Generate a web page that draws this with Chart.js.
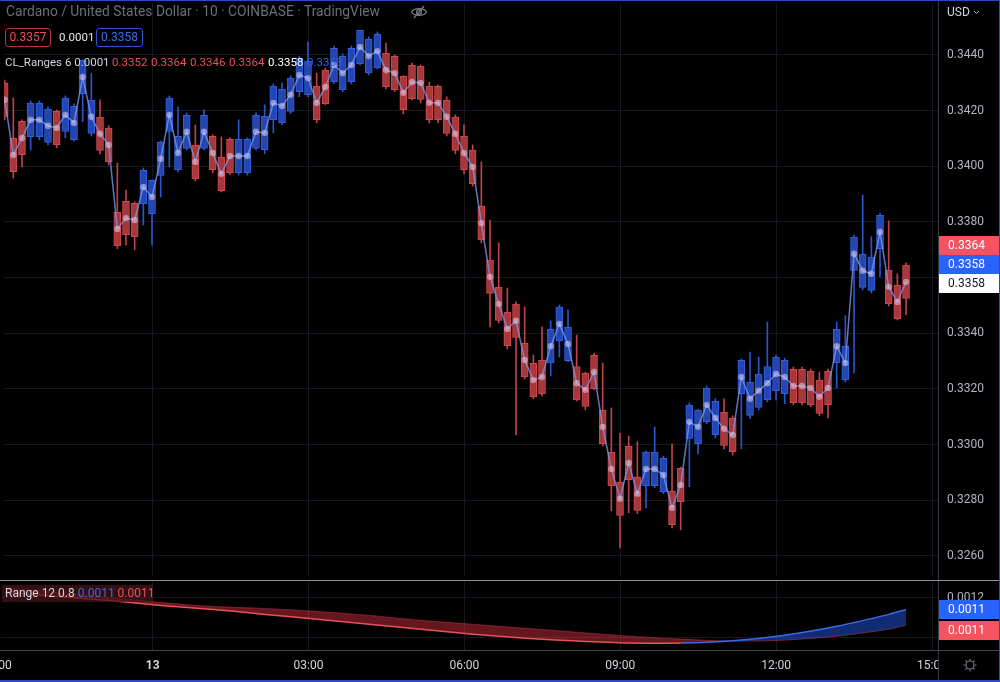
<!DOCTYPE html>
<html>
<head>
<meta charset="utf-8">
<script src="https://cdn.jsdelivr.net/npm/chart.js@4.4.1/dist/chart.umd.min.js"></script>
<style>
  html, body { margin: 0; padding: 0; background: #000; }
  #wrap { position: relative; width: 1000px; height: 682px; overflow: hidden; background: #000;
          font-family: Roboto, "Noto Sans", sans-serif; }
  canvas { position: absolute; left: 0; }
  #main { top: 0; }
  #osc { top: 580px; }
  .abs { position: absolute; white-space: nowrap; }
  .line { position: absolute; }
</style>
</head>
<body>
<div id="wrap">
  <canvas id="main" width="1000" height="580"></canvas>
  <canvas id="osc" width="1000" height="102"></canvas>

  <!-- pane separators -->
  <div class="line" style="left:938px;top:0;width:1px;height:682px;background:#363a45"></div>
  <div class="line" style="left:0;top:580px;width:1000px;height:1px;background:#8f929b"></div>
  <div class="line" style="left:0;top:650px;width:1000px;height:1px;background:#43464f"></div>
  <div class="line" style="left:939px;top:651px;width:60px;height:29px;background:#000"></div>

  <!-- header -->
  <div class="abs" style="left:6px;top:3px;font-size:13.8px;color:#6b6e78">Cardano / United States Dollar · 10 · COINBASE · TradingView</div>
  <svg class="abs" style="left:410px;top:5px" width="18" height="14" viewBox="0 0 18 14">
    <path d="M1.5 7 C4 2.5 14 2.5 16.5 7 C14 11.5 4 11.5 1.5 7 Z" fill="none" stroke="#787b86" stroke-width="1.3"/>
    <circle cx="9" cy="7" r="2.4" fill="none" stroke="#787b86" stroke-width="1.3"/>
    <line x1="14" y1="1" x2="4" y2="13" stroke="#787b86" stroke-width="1.3"/>
  </svg>
  <div class="abs" style="left:5px;top:28px;width:46px;height:19px;box-sizing:border-box;border:1px solid #b8333d;border-radius:3px;color:#e8505b;font-size:12px;line-height:17px;text-align:center">0.3357</div>
  <div class="abs" style="left:59px;top:29px;font-size:11.5px;line-height:17px;color:#e6e8ee">0.0001</div>
  <div class="abs" style="left:96px;top:28px;width:47px;height:19px;box-sizing:border-box;border:1px solid #2d55d0;border-radius:3px;color:#3d6ae8;font-size:12px;line-height:17px;text-align:center">0.3358</div>

  <div class="abs" style="left:5px;top:55px;font-size:11.5px;color:#d1d4dc">CL_Ranges 6 0.0001</div>
  <div class="abs" style="left:112px;top:55px;font-size:11.5px;color:#e8505b">0.3352</div>
  <div class="abs" style="left:151px;top:55px;font-size:11.5px;color:#e8505b">0.3364</div>
  <div class="abs" style="left:190px;top:55px;font-size:11.5px;color:#e8505b">0.3346</div>
  <div class="abs" style="left:229px;top:55px;font-size:11.5px;color:#e8505b">0.3364</div>
  <div class="abs" style="left:268px;top:55px;font-size:11.5px;color:#ffffff">0.3358</div>
  <div class="abs" style="left:307px;top:55px;font-size:11.5px;color:#2f5ee0">0.3358</div>

  <!-- price axis header -->
  <div class="abs" style="left:947px;top:5px;font-size:12px;color:#d1d4dc">USD</div>
  <svg class="abs" style="left:973px;top:10px" width="7" height="5" viewBox="0 0 7 5">
    <path d="M1 1 L3.5 3.5 L6 1" fill="none" stroke="#b2b5be" stroke-width="1"/>
  </svg>

  <!-- oscillator legend -->
  <div class="abs" style="left:2px;top:585px;width:151px;height:17px;background:rgba(70,20,24,0.75)"></div>
  <div class="abs" style="left:5px;top:586px;font-size:12px;color:#d1d4dc">Range 12 0.8 <span style="color:#3d6ae8">0.0011</span> <span style="color:#e8505b">0.0011</span></div>

  <!-- settings icon -->
  <svg class="abs" style="left:962px;top:657px" width="16" height="16" viewBox="0 0 16 16">
    <circle cx="8" cy="8" r="4" fill="none" stroke="#787b86" stroke-width="1.1"/>
    <path d="M8 1.5v2M8 12.5v2M1.5 8h2M12.5 8h2M3.4 3.4l1.4 1.4M11.2 11.2l1.4 1.4M3.4 12.6l1.4-1.4M11.2 4.8l1.4-1.4" stroke="#787b86" stroke-width="1.1"/>
  </svg>

  <!-- frame -->
  <div class="line" style="left:0;top:0;width:1000px;height:1px;background:#2c4bbd"></div>
  <div class="line" style="left:0;top:680px;width:1000px;height:2px;background:#2c4bbd"></div>
  <div class="line" style="left:999px;top:0;width:1px;height:682px;background:#2c4bbd"></div>
</div>

<script>
// ==========================
// DATA (10-minute range bars, bar 1 = 21:10)
// ==========================
const mid = [
  0.34239, 0.34041, 0.34102, 0.34167, 0.34167, 0.34146, 0.34138, 0.34185, 0.34156, 0.34321,
  0.34178, 0.34117, 0.34077, 0.33775, 0.33814, 0.33807, 0.33926, 0.33890, 0.34027, 0.34185,
  0.34048, 0.34124, 0.34016, 0.34124, 0.34048, 0.33973, 0.34037, 0.34037, 0.34037, 0.34124,
  0.34120, 0.34228, 0.34217, 0.34257, 0.34328, 0.34317, 0.34228, 0.34285, 0.34364, 0.34335,
  0.34364, 0.34429, 0.34396, 0.34414, 0.34346, 0.34335, 0.34264, 0.34303, 0.34300, 0.34228,
  0.34228, 0.34178, 0.34117, 0.34048, 0.33998, 0.33796, 0.33603, 0.33506, 0.33416, 0.33445,
  0.33304, 0.33232, 0.33243, 0.33354, 0.33434, 0.33362, 0.33221, 0.33197, 0.33261, 0.33064,
  0.32913, 0.32806, 0.32934, 0.32824, 0.32913, 0.32913, 0.32891, 0.32773, 0.32855, 0.33082,
  0.33064, 0.33143, 0.33096, 0.33057, 0.33035, 0.33243, 0.33165, 0.33194, 0.33221, 0.33254,
  0.33243, 0.33211, 0.33211, 0.33204, 0.33172, 0.33204, 0.33354, 0.33293, 0.33686, 0.33625,
  0.33614, 0.33764, 0.33567, 0.33513, 0.33585
];
const high = [
  0.34310, 0.34246, 0.34167, 0.34235, 0.34235, 0.34214, 0.34203, 0.34253, 0.34225, 0.34382,
  0.34335, 0.34239, 0.34146, 0.34012, 0.33915, 0.33872, 0.33994, 0.33951, 0.34091, 0.34253,
  0.34214, 0.34192, 0.34149, 0.34203, 0.34113, 0.34106, 0.34102, 0.34167, 0.34102, 0.34192,
  0.34221, 0.34296, 0.34300, 0.34325, 0.34396, 0.34447, 0.34335, 0.34353, 0.34432, 0.34404,
  0.34432, 0.34486, 0.34465, 0.34483, 0.34443, 0.34400, 0.34325, 0.34371, 0.34364, 0.34303,
  0.34293, 0.34250, 0.34185, 0.34149, 0.34077, 0.34016, 0.33807, 0.33725, 0.33563, 0.33513,
  0.33495, 0.33322, 0.33423, 0.33445, 0.33502, 0.33484, 0.33394, 0.33261, 0.33329, 0.33293,
  0.33132, 0.33042, 0.33031, 0.33010, 0.32977, 0.33064, 0.32959, 0.33003, 0.32920, 0.33150,
  0.33128, 0.33211, 0.33165, 0.33165, 0.33104, 0.33308, 0.33333, 0.33315, 0.33441, 0.33322,
  0.33311, 0.33279, 0.33279, 0.33272, 0.33261, 0.33272, 0.33441, 0.33463, 0.33754, 0.33897,
  0.33747, 0.33832, 0.33804, 0.33614, 0.33653
];
const low = [
  0.34167, 0.33958, 0.33998, 0.34059, 0.34095, 0.34077, 0.34066, 0.34102, 0.34091, 0.34160,
  0.34109, 0.34045, 0.34005, 0.33704, 0.33718, 0.33700, 0.33789, 0.33718, 0.33890, 0.33998,
  0.33980, 0.34059, 0.33947, 0.34059, 0.33976, 0.33908, 0.33969, 0.33969, 0.33969, 0.34059,
  0.34045, 0.34120, 0.34149, 0.34189, 0.34250, 0.34250, 0.34156, 0.34221, 0.34296, 0.34268,
  0.34296, 0.34364, 0.34328, 0.34350, 0.34278, 0.34268, 0.34189, 0.34239, 0.34228, 0.34156,
  0.34156, 0.34109, 0.34045, 0.33973, 0.33929, 0.33725, 0.33423, 0.33437, 0.33344, 0.33035,
  0.33236, 0.33165, 0.33175, 0.33247, 0.33315, 0.33297, 0.33157, 0.33125, 0.33197, 0.32995,
  0.32762, 0.32629, 0.32755, 0.32752, 0.32773, 0.32845, 0.32824, 0.32701, 0.32694, 0.32849,
  0.32967, 0.33075, 0.33024, 0.32985, 0.32963, 0.32985, 0.33093, 0.33125, 0.33154, 0.33161,
  0.33147, 0.33143, 0.33143, 0.33136, 0.33104, 0.33096, 0.33204, 0.33225, 0.33257, 0.33556,
  0.33545, 0.33603, 0.33498, 0.33448, 0.33466
];
// u = blue (up) bar, d = red (down) bar
const dirs = (
  'ddduuuduuu' + 'uddddduuuu' + 'uududdduuu' + 'uuuuuudduu' + 'uuuudddddd' +
  'dddddddddd' + 'ddduuudddd' + 'dddduuuddu' + 'uuudduuuuu' + 'uddddduuuu' + 'uuddd'
).split('');
const boxHalf = 0.0006;

// Range 12 oscillator, read hourly (bar index)
const rangeBars = [1, 7, 13, 19, 25, 31, 37, 43, 49, 55, 61, 67, 73, 79, 85, 91, 97, 103, 105];
const rangeFast = [0.001225, 0.001205, 0.001185, 0.00116, 0.00114, 0.001115, 0.00109, 0.001065, 0.00104, 0.001015,
                   0.000995, 0.00098, 0.00097, 0.00097, 0.000982, 0.00101, 0.001055, 0.001115, 0.00114];
const rangeSlow = [0.00125, 0.001225, 0.0012, 0.001175, 0.001155, 0.001145, 0.00113, 0.00111, 0.001085, 0.001065,
                   0.001045, 0.001025, 0.001005, 0.00099, 0.00098, 0.000985, 0.001005, 0.00104, 0.00106];

// axis ticks
const priceTicks = [0.3260, 0.3280, 0.3300, 0.3320, 0.3340, 0.3360, 0.3380, 0.3400, 0.3420, 0.3440];
const rangeTicks = [0.0010, 0.0012];
const timeTicks = [0, 18, 36, 54, 72, 90, 108];
const timeLabels = ['21:00', '13', '03:00', '06:00', '09:00', '12:00', '15:00'];
const priceTags = [0.3364, 0.3358, 0.3358];

// ==========================
// STYLE / LAYOUT
// ==========================
const RED = '#f7525f', BLUE = '#2962ff';
const gridColor = '#15181f';
// screen placement of the scales (page pixels)
const barPx = 8.667, barOrigin = -4;          // x of bar index 0
const pricePx = 501 / 0.018, priceRef = 0.3440, priceRefY = 55;
const rangePx = 200000, rangeRef = 0.0012, rangeRefY = 597 - 580;

const fitY = s => { s.width = 62; s.paddingTop = 0; s.paddingBottom = 0; };
const fitX = h => s => { s.height = h; s.paddingLeft = 0; s.paddingRight = 0; };

function pinScales(chart, px, ref, refY) {
  const a = chart.chartArea;
  chart.options.scales.x.min = (a.left - barOrigin) / barPx;
  chart.options.scales.x.max = (a.right - barOrigin) / barPx;
  chart.options.scales.y.max = ref + (refY - a.top) / px;
  chart.options.scales.y.min = ref - (a.bottom - refY) / px;
  chart.update('none');
}

function drawTag(ctx, x, y, text, bg, fg) {
  ctx.fillStyle = bg;
  ctx.fillRect(x, Math.round(y - 9.5), 62, 19);
  ctx.fillStyle = fg;
  ctx.font = '12px Roboto, "Noto Sans", sans-serif';
  ctx.textBaseline = 'middle';
  ctx.textAlign = 'left';
  ctx.fillText(text, x + 9, Math.round(y) + 0.5);
}

// ==========================
// MAIN PRICE PANE
// ==========================
const mainTags = {
  id: 'mainTags',
  afterDraw(chart) {
    const y = chart.scales.y, ctx = chart.ctx;
    const x0 = chart.chartArea.right + 1;
    const colors = [[RED, '#fff'], [BLUE, '#fff'], ['#ffffff', '#131722']];
    const pos = [];
    let prev = null;
    for (let i = priceTags.length - 1; i >= 0; i--) {
      let p = y.getPixelForValue(priceTags[i]);
      if (prev !== null) p = Math.min(p, prev - 19);
      pos[i] = p; prev = p;
    }
    ctx.save();
    priceTags.forEach((v, i) => drawTag(ctx, x0, pos[i], v.toFixed(4), colors[i][0], colors[i][1]));
    ctx.restore();
  }
};

const mainChart = new Chart(document.getElementById('main'), {
  type: 'bar',
  data: {
    datasets: [
      {
        type: 'line',
        order: 0,
        data: mid.map((m, i) => ({ x: i + 1, y: m })),
        borderColor: 'rgba(120,150,232,0.8)',
        borderWidth: 1.5,
        pointRadius: 3.2,
        pointBorderWidth: 0,
        pointBackgroundColor: 'rgba(235,215,240,0.5)',
        tension: 0
      },
      {
        order: 1,
        grouped: false,
        data: mid.map((m, i) => ({ x: i + 1, y: [m - boxHalf, m + boxHalf] })),
        backgroundColor: dirs.map(d => d === 'u' ? '#2446b2' : '#a6383c'),
        borderColor: dirs.map(d => d === 'u' ? '#3360e0' : '#d4474e'),
        borderWidth: 1,
        borderSkipped: false,
        barThickness: 7
      },
      {
        order: 2,
        grouped: false,
        data: mid.map((m, i) => ({ x: i + 1, y: [low[i], high[i]] })),
        backgroundColor: dirs.map(d => d === 'u' ? '#2c54cc' : '#bb434a'),
        borderWidth: 0,
        barThickness: 1
      }
    ]
  },
  options: {
    responsive: false,
    animation: false,
    layout: { padding: 0 },
    plugins: { legend: { display: false }, tooltip: { enabled: false } },
    scales: {
      x: {
        type: 'linear',
        min: 0.46, max: 108.7,
        offset: false,
        afterBuildTicks: s => { s.ticks = timeTicks.map(v => ({ value: v })); },
        afterFit: fitX(0),
        ticks: { display: false },
        grid: { color: gridColor, offset: false, drawTicks: false },
        border: { display: false }
      },
      y: {
        position: 'right',
        min: 0.325138, max: 0.345976,
        afterBuildTicks: s => { s.ticks = priceTicks.map(v => ({ value: v })); },
        afterFit: fitY,
        ticks: {
          color: '#b2b5be',
          font: { size: 12, family: 'Roboto' },
          padding: 9,
          callback: v => v.toFixed(4)
        },
        grid: { color: gridColor, drawTicks: false },
        border: { display: false }
      }
    }
  },
  plugins: [mainTags]
});
pinScales(mainChart, pricePx, priceRef, priceRefY);

// ==========================
// RANGE OSCILLATOR PANE
// ==========================
const oscTags = {
  id: 'oscTags',
  afterDraw(chart) {
    const y = chart.scales.y, ctx = chart.ctx;
    const x0 = chart.chartArea.right + 1;
    const lastFast = rangeFast[rangeFast.length - 1], lastSlow = rangeSlow[rangeSlow.length - 1];
    const pFast = y.getPixelForValue(lastFast);
    const pSlow = Math.max(y.getPixelForValue(lastSlow), pFast + 21);
    ctx.save();
    drawTag(ctx, x0, pFast, lastFast.toFixed(4), BLUE, '#fff');
    drawTag(ctx, x0, pSlow, lastSlow.toFixed(4), RED, '#fff');
    ctx.restore();
  }
};

const oscChart = new Chart(document.getElementById('osc'), {
  type: 'line',
  data: {
    datasets: [
      {
        data: rangeBars.map((b, i) => ({ x: b, y: rangeFast[i] })),
        borderWidth: 1.5,
        segment: {
          borderColor: c => rangeFast[c.p1DataIndex] >= rangeSlow[c.p1DataIndex] ? '#3d6ae8' : '#e8505b'
        },
        pointRadius: 0,
        tension: 0.3,
        fill: { target: 1, above: 'rgba(41,98,255,0.45)', below: 'rgba(242,54,69,0.42)' }
      },
      {
        data: rangeBars.map((b, i) => ({ x: b, y: rangeSlow[i] })),
        borderColor: 'rgba(242,54,69,0.45)',
        borderWidth: 1,
        pointRadius: 0,
        tension: 0.3,
        fill: false
      }
    ]
  },
  options: {
    responsive: false,
    animation: false,
    layout: { padding: 0 },
    plugins: { legend: { display: false }, tooltip: { enabled: false } },
    scales: {
      x: {
        type: 'linear',
        min: 0.46, max: 108.7,
        offset: false,
        afterBuildTicks: s => { s.ticks = timeTicks.map(v => ({ value: v })); },
        afterFit: fitX(32),
        ticks: {
          autoSkip: false,
          maxRotation: 0,
          padding: 9,
          color: '#d1d4dc',
          font: c => ({ size: 12, family: 'Roboto', weight: c.tick && c.tick.value === 18 ? 'bold' : 'normal' }),
          callback: (v, i) => timeLabels[i]
        },
        grid: { color: gridColor, offset: false, drawTicks: false },
        border: { display: false }
      },
      y: {
        position: 'right',
        min: 0.000935, max: 0.001285,
        afterBuildTicks: s => { s.ticks = rangeTicks.map(v => ({ value: v })); },
        afterFit: fitY,
        ticks: {
          color: '#b2b5be',
          font: { size: 12, family: 'Roboto' },
          padding: 9,
          callback: v => v.toFixed(4)
        },
        grid: { color: gridColor, drawTicks: false },
        border: { display: false }
      }
    }
  },
  plugins: [oscTags]
});
pinScales(oscChart, rangePx, rangeRef, rangeRefY);
</script>
</body>
</html>
